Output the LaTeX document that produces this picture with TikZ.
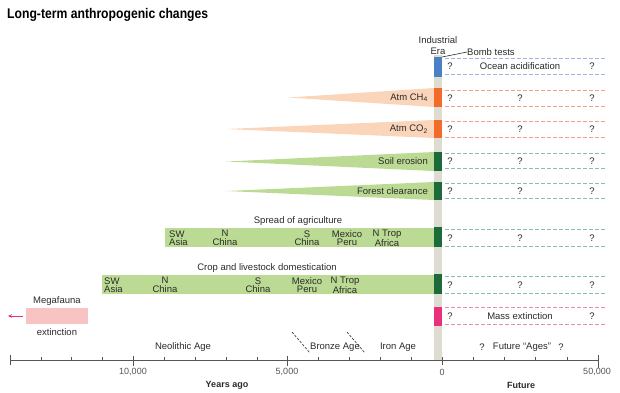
\documentclass[tikz,border=0pt]{standalone}
\usepackage{fontspec}
\setmainfont{Liberation Sans}
\newfontfamily\titlefont[FakeStretch=0.87]{Liberation Sans}
\usetikzlibrary{arrows.meta}
\definecolor{txt}{HTML}{2A2A2A}
\definecolor{graybar}{HTML}{DEDCD0}
\definecolor{cblue}{HTML}{4D7FC4}
\definecolor{corange}{HTML}{F26B2A}
\definecolor{cgreen}{HTML}{1D6B3A}
\definecolor{cpink}{HTML}{E8317A}
\definecolor{peach}{HTML}{FBD5BA}
\definecolor{lgreen}{HTML}{BBDA93}
\definecolor{lpink}{HTML}{F7C3C3}
\definecolor{dblue}{HTML}{9FB4DE}
\definecolor{dorange}{HTML}{F4A08C}
\definecolor{dgreen}{HTML}{8BBFA3}
\definecolor{dpink}{HTML}{E98BB6}
\definecolor{axisc}{HTML}{555555}
\begin{document}
\begin{tikzpicture}[x=1pt,y=-1pt,
  lbl/.style={font=\fontsize{9.5}{8.5}\selectfont, text=txt, inner sep=0pt},
  two/.style={lbl, align=center},
  twol/.style={lbl, align=left, anchor=west},
  dl/.style={dash pattern=on 4pt off 2pt, line width=0.8pt},
  tick/.style={axisc, line width=0.6pt},
  num/.style={font=\fontsize{9}{9}\selectfont, text=axisc, inner sep=0pt},
  axlbl/.style={font=\fontsize{9}{10}\selectfont\bfseries, text=txt, inner sep=0pt},
  q/.style={lbl}]
\useasboundingbox (0,0) rectangle (620,392);
% title
\node[anchor=west, inner sep=0pt, text=black, font=\titlefont\fontsize{14}{14}\selectfont\bfseries] (title) at (7,15) {Long-term anthropogenic changes};
% gray bar
\fill[graybar] (434,55) rectangle (442,360);
% wedges
\fill[peach] (288,97.5) -- (434,88) -- (434,107) -- cycle;
\fill[peach] (226,129) -- (434,120) -- (434,138) -- cycle;
\fill[lgreen] (226,161.5) -- (434,152) -- (434,171) -- cycle;
\fill[lgreen] (226,191) -- (434,182) -- (434,200) -- cycle;
\node[lbl, anchor=east] (ch4) at (428,97.5) {Atm CH\textsubscript{4}};
\node[lbl, anchor=east] (co2) at (428,129) {Atm CO\textsubscript{2}};
\node[lbl, anchor=east] (soil) at (428,161.5) {Soil erosion};
\node[lbl, anchor=east] (forest) at (428,191) {Forest clearance};
% agriculture bars
\fill[lgreen] (165,228) rectangle (434,247);
\fill[lgreen] (102,275) rectangle (434,294);
\node[lbl] (spread) at (298,221) {Spread of agriculture};
\node[twol] (a1) at (169,238) {SW\\Asia};
\node[two] (a2) at (225,238) {N\\China};
\node[two] (a3) at (307,238) {S\\China};
\node[two] (a4) at (347,238) {Mexico\\Peru};
\node[two] (a5) at (387,238) {N Trop\\Africa};
\node[lbl] (crop) at (267,268) {Crop and livestock domestication};
\node[twol] (b1) at (104,285) {SW\\Asia};
\node[two] (b2) at (165,285) {N\\China};
\node[two] (b3) at (258,285) {S\\China};
\node[two] (b4) at (307,285) {Mexico\\Peru};
\node[two] (b5) at (345,285) {N Trop\\Africa};
% colored segments
\fill[cblue] (434,57) rectangle (442,77);
\fill[corange] (434,88) rectangle (442,107);
\fill[corange] (434,120) rectangle (442,138);
\fill[cgreen] (434,152) rectangle (442,171);
\fill[cgreen] (434,182) rectangle (442,200);
\fill[cgreen] (434,227) rectangle (442,247);
\fill[cgreen] (434,274) rectangle (442,294);
\fill[cpink] (434,307) rectangle (442,326);
% dashed future rows
\foreach \t/\b/\c in {58/74/dblue, 90/106/dorange, 121/137/dorange, 153/168/dgreen, 183/198/dgreen, 229/246/dgreen, 276/293/dgreen, 307/324/dpink}{
  \draw[dl, \c] (445,\t) -- (606,\t);
  \draw[dl, \c] (445,\b) -- (606,\b);
}
\node[q] (qo1) at (450,66) {?};
\node[lbl] (ocean) at (520,66) {Ocean acidification};
\node[q] (qo2) at (592,66) {?};
\foreach \y/\n in {98/r1, 129/r2, 161/r3, 191/r4, 238/r5, 285/r6}{
  \node[q] (\n a) at (450,\y) {?};
  \node[q] (\n b) at (520,\y) {?};
  \node[q] (\n c) at (592,\y) {?};
}
\node[q] (qm1) at (450,316) {?};
\node[lbl] (mass) at (520,316) {Mass extinction};
\node[q] (qm2) at (592,316) {?};
% industrial era
\node[two, font=\fontsize{9.5}{11}\selectfont] (ind) at (438,46) {Industrial\\Era};
\node[lbl, anchor=west] (bomb) at (467,52) {Bomb tests};
\coordinate (bombpt) at (442,57);
\draw[txt, line width=0.6pt] (bombpt) -- (bomb.west);
% megafauna
\fill[lpink] (26,308) rectangle (88,324);
\node[lbl] (mega) at (57,301) {Megafauna};
\node[lbl] (ext) at (57,332) {extinction};
\coordinate (ma) at (23,316);
\coordinate (mb) at (8,316);
\draw[cpink, line width=0.7pt, -{Stealth[length=4pt,width=3.5pt]}] (ma) -- (mb);
% ages
\node[lbl] (neo) at (183,347) {Neolithic Age};
\node[lbl] (bronze) at (335,347) {Bronze Age};
\node[lbl] (iron) at (398,347) {Iron Age};
\node[lbl] (fq1) at (482,347) {?};
\node[lbl] (fut) at (522,347) {Future ``Ages''};
\node[lbl] (fq2) at (561,347) {?};
\coordinate (d1a) at (292,332); \coordinate (d1b) at (310,353);
\coordinate (d2a) at (347,332); \coordinate (d2b) at (365,353);
\draw[txt, line width=0.6pt, dash pattern=on 2.5pt off 1.5pt] (d1a) -- (d1b);
\draw[txt, line width=0.6pt, dash pattern=on 2.5pt off 1.5pt] (d2a) -- (d2b);
% axis
\draw[tick] (10,360) -- (598,360);
\draw[tick] (10,355) -- (10,365);
\foreach \i in {1,...,13}{ \draw[tick] ({442-30.86*\i},357) -- ({442-30.86*\i},360); }
\draw[tick] (133.4,356) -- (133.4,366);
\draw[tick] (287.7,356) -- (287.7,366);
\draw[tick] (442,357) -- (442,365);
\foreach \i in {1,...,4}{ \draw[tick] ({442+31.2*\i},357) -- ({442+31.2*\i},360); }
\draw[tick] (598,355) -- (598,368);
\node[num] (n1) at (133,372) {10,000};
\node[num] (n2) at (287,372) {5,000};
\node[num] (n3) at (442,372) {0};
\node[num] (n4) at (597,372) {50,000};
\node[axlbl] (ya) at (227,385) {Years ago};
\node[axlbl] (fu) at (521,385) {Future};
\end{tikzpicture}
\end{document}
